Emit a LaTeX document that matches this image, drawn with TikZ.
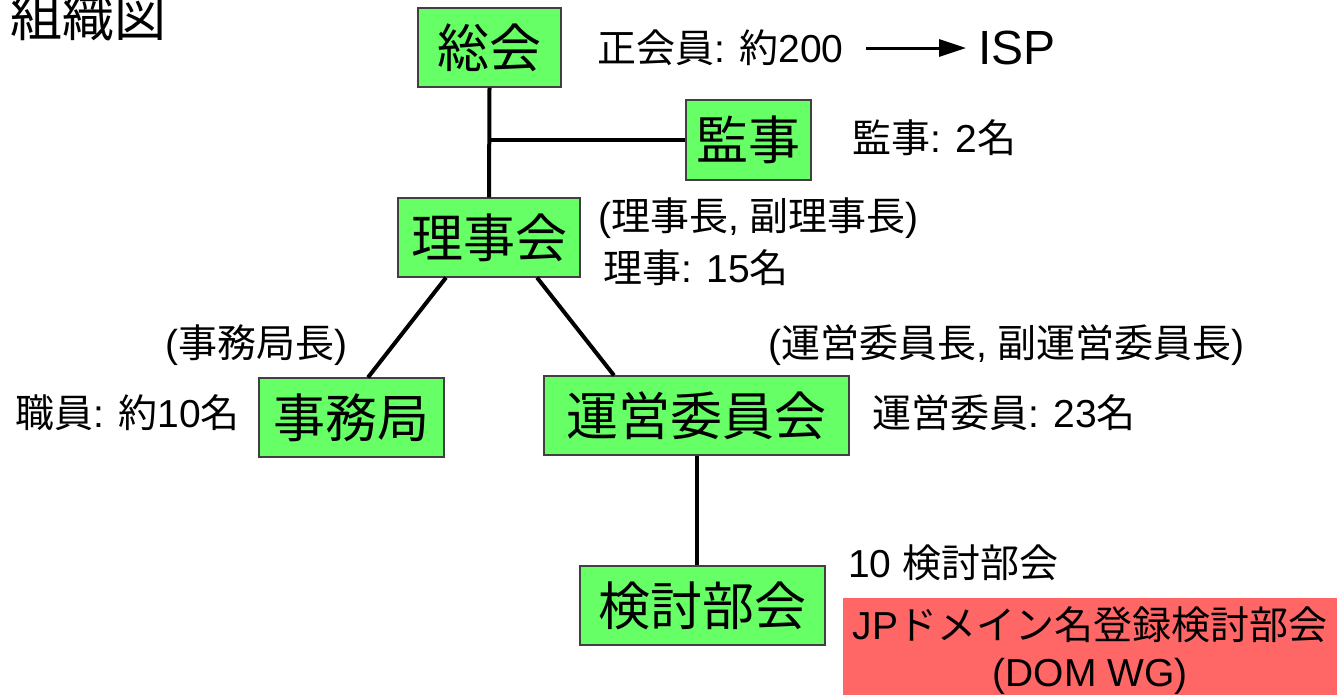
\documentclass[tikz,border=0pt]{standalone}
\usepackage{fontspec}
\setmainfont{Liberation Sans}
\newfontfamily\jp{Noto Sans CJK JP}
\usetikzlibrary{arrows.meta}
\definecolor{boxgreen}{HTML}{66FF66}
\definecolor{boxred}{HTML}{FF6666}
\definecolor{edgegray}{HTML}{404040}
\newcommand\J[1]{{\jp #1}}
\begin{document}
\begin{tikzpicture}[x=1pt,y=-1pt,
  org/.style={draw=edgegray, line width=1.2pt, fill=boxgreen, inner sep=0pt,
    font=\jp\fontsize{52}{52}\selectfont},
  lbl/.style={anchor=west, inner sep=0pt, font=\fontsize{39}{45}\selectfont},
  link/.style={line width=4pt, draw=black}]
\useasboundingbox (0,0) rectangle (1337,694);
% title
\node[anchor=west, inner sep=0pt, font=\jp\fontsize{52}{52}\selectfont] (title) at (10,17) {組織図};
% boxes
\node[org, minimum width=143pt, minimum height=79pt] (soukai) at (489.5,47.5) {総会};
\node[org, minimum width=125pt, minimum height=80pt] (kanji) at (748.5,140) {監事};
\node[org, minimum width=182pt, minimum height=79pt] (riji) at (489,237.5) {理事会};
\node[org, minimum width=185pt, minimum height=79pt] (jimu) at (351.5,417.5) {事務局};
\node[org, minimum width=305pt, minimum height=79pt] (unei) at (696.5,415.5) {運営委員会};
\node[org, minimum width=245pt, minimum height=79pt] (kento) at (702.5,605.5) {検討部会};
\node[fill=boxred, minimum width=494pt, minimum height=106pt, inner sep=0pt, align=center,
  font=\fontsize{39}{47}\selectfont] (dom) at (1090,651) {JP\J{ドメイン名登録検討部会}\\(DOM WG)};
% connectors
\draw[link] (soukai.south) -- (riji.north);
\draw[link] (soukai.south |- kanji.west) -- (kanji.west);
\draw[link] ([xshift=-43pt]riji.south) -- ([xshift=16.5pt]jimu.north);
\draw[link] ([xshift=48pt]riji.south) -- ([xshift=-82.5pt]unei.north);
\draw[link] (unei.south) -- (unei.south |- kento.north);
% labels
\node[lbl] (sei) at (597,48) {\J{正会員}: \J{約}200};
\node[anchor=west, inner sep=0pt, font=\fontsize{48}{48}\selectfont] (isp) at (978,48) {ISP};
\coordinate (arrS) at (866,48);
\coordinate (arrE) at (966,48);
\draw[line width=3pt, -{Triangle[length=27pt,width=17pt]}] (arrS) -- (arrE);
\node[lbl] (kanjilbl) at (852,138) {\J{監事}: 2\J{名}};
\node[lbl] (rijicho) at (598,218) {(\J{理事長}, \J{副理事長})};
\node[lbl] (rijilbl) at (603,268) {\J{理事}: 15\J{名}};
\node[lbl] (jimucho) at (165,345) {(\J{事務局長})};
\node[lbl] (ueicho) at (768,345) {(\J{運営委員長}, \J{副運営委員長})};
\node[lbl] (shokuin) at (15,413) {\J{職員}: \J{約}10\J{名}};
\node[lbl] (ueiin) at (872,413) {\J{運営委員}: 23\J{名}};
\node[lbl] (kentolbl) at (848,563) {10 \J{検討部会}};
\end{tikzpicture}
\end{document}
